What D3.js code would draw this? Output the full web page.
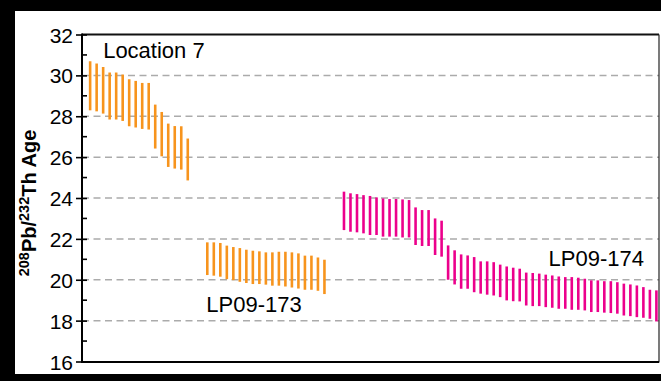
<!DOCTYPE html>
<html>
<head>
<meta charset="utf-8">
<script src="https://cdn.jsdelivr.net/npm/d3@7"></script>
<style>
  html, body { margin: 0; padding: 0; background: #000; }
  svg { display: block; }
  text { font-family: "Liberation Sans", Arial, Helvetica, sans-serif; }
</style>
</head>
<body>
<svg id="chart" width="661" height="381"></svg>
<script>
// Age ranges (Ma) for each analysed grain, lower and upper ends of each bar
const groupNames = ["Location 7", "LP09-173", "LP09-174"];

const loc7Low  = [28.29, 28.24, 28.13, 27.84, 27.84, 27.77, 27.51, 27.45, 27.38, 27.35, 26.42, 26.04, 25.52, 25.44, 25.39, 24.86];
const loc7High = [30.69, 30.58, 30.41, 30.14, 30.14, 30.04, 29.81, 29.73, 29.63, 29.63, 28.57, 28.21, 27.64, 27.52, 27.51, 26.91];

const lp173Low  = [20.23, 20.20, 20.15, 20.03, 19.98, 19.90, 19.84, 19.79, 19.79, 19.76, 19.71, 19.71, 19.67, 19.62, 19.57, 19.51, 19.51, 19.46, 19.30];
const lp173High = [21.83, 21.83, 21.80, 21.67, 21.60, 21.55, 21.47, 21.42, 21.39, 21.34, 21.34, 21.37, 21.37, 21.34, 21.29, 21.18, 21.18, 21.09, 20.98];

const lp174Low  = [22.43, 22.35, 22.32, 22.27, 22.19, 22.19, 22.11, 22.11, 22.11, 22.07, 22.07,
                   21.70, 21.65, 21.65, 21.21, 21.13, 20.00, 19.77, 19.56, 19.56, 19.39,
                   19.32, 19.27, 19.23, 19.15, 18.99, 18.95, 18.94, 18.74, 18.71, 18.71,
                   18.66, 18.63, 18.58, 18.58, 18.53, 18.53, 18.50, 18.42, 18.42, 18.39,
                   18.37, 18.34, 18.25, 18.22, 18.17, 18.14, 18.09, 17.96];
const lp174High = [24.31, 24.23, 24.19, 24.14, 24.10, 24.03, 23.98, 23.95, 23.95, 23.93, 23.90,
                   23.54, 23.41, 23.41, 23.00, 22.89, 21.68, 21.44, 21.24, 21.19, 21.11,
                   20.90, 20.90, 20.86, 20.74, 20.65, 20.59, 20.54, 20.35, 20.33, 20.30,
                   20.25, 20.21, 20.16, 20.13, 20.13, 20.10, 20.05, 19.97, 19.97, 19.93,
                   19.93, 19.88, 19.81, 19.77, 19.72, 19.64, 19.51, 19.48];

const yTicks = [16, 18, 20, 22, 24, 26, 28, 30, 32];
const yMinorTicks = [17, 19, 21, 23, 25, 27, 29, 31];

const orange = "#f7941d";
const magenta = "#ec008c";

// Combine the groups into one sequence of grains, leaving two empty slots between groups
const groups = [
  { name: groupNames[0], low: loc7Low,  high: loc7High,  color: orange },
  { name: groupNames[1], low: lp173Low, high: lp173High, color: orange },
  { name: groupNames[2], low: lp174Low, high: lp174High, color: magenta }
];
const GAP = 2;
const bars = [];
let idx = 0;
groups.forEach((g) => {
  g.start = idx;
  g.low.forEach((lo, i) => {
    bars.push({ i: idx, low: lo, high: g.high[i], color: g.color });
    idx++;
  });
  g.end = idx - 1;
  idx += GAP;
});

const svg = d3.select("#chart");
const W = 661, H = 381;

// white sheet on the black page
svg.append("rect").attr("x", 0).attr("y", 0).attr("width", W).attr("height", H).attr("fill", "#000");
svg.append("rect").attr("x", 15).attr("y", 11).attr("width", W - 15).attr("height", 363).attr("fill", "#fff");

const plot = { left: 82, right: 659, top: 34.5, bottom: 361.5 };

const x = d3.scaleLinear().domain([-1.25, 87.4]).range([plot.left, plot.right]);
const y = d3.scaleLinear().domain([16, 32]).range([plot.bottom, plot.top]);

// dashed horizontal grid
svg.append("g")
  .selectAll("line")
  .data(yTicks.filter(t => t > 16 && t < 32))
  .join("line")
  .attr("x1", plot.left).attr("x2", plot.right)
  .attr("y1", d => y(d)).attr("y2", d => y(d))
  .attr("stroke", "#ababab")
  .attr("stroke-width", 1.5)
  .attr("stroke-dasharray", "7,4.5");

// frame: top and right edges
svg.append("line").attr("x1", plot.left).attr("x2", plot.right)
  .attr("y1", plot.top).attr("y2", plot.top)
  .attr("stroke", "#111").attr("stroke-width", 2);
svg.append("line").attr("x1", plot.right).attr("x2", plot.right)
  .attr("y1", plot.top).attr("y2", plot.bottom + 1)
  .attr("stroke", "#222").attr("stroke-width", 1.2);

// error bars
svg.append("g")
  .selectAll("line")
  .data(bars)
  .join("line")
  .attr("x1", d => x(d.i)).attr("x2", d => x(d.i))
  .attr("y1", d => y(d.low)).attr("y2", d => y(d.high))
  .attr("stroke", d => d.color)
  .attr("stroke-width", 2.6);

// bottom axis line (no tick labels)
svg.append("line").attr("x1", plot.left - 1).attr("x2", plot.right)
  .attr("y1", plot.bottom + 0.5).attr("y2", plot.bottom + 0.5)
  .attr("stroke", "#000").attr("stroke-width", 2);

// left axis with major ticks crossing the axis and minor ticks inside
const yAxis = d3.axisLeft(y).tickValues(yTicks).tickSize(6).tickPadding(3).tickFormat(d3.format("d"));
const gy = svg.append("g").attr("transform", `translate(${plot.left},0)`).call(yAxis);
gy.select(".domain").attr("stroke", "#000").attr("stroke-width", 2)
  .attr("d", `M0,${plot.top - 1}V${plot.bottom + 1.5}`);
gy.selectAll(".tick line").attr("x1", 5).attr("x2", -6).attr("stroke", "#000").attr("stroke-width", 1.6);
gy.selectAll(".tick text").attr("font-size", 21).attr("fill", "#000")
  .attr("font-family", "Liberation Sans, Arial, sans-serif").attr("x", -9).attr("dy", "0.36em");

svg.append("g").selectAll("line")
  .data(yMinorTicks)
  .join("line")
  .attr("x1", plot.left).attr("x2", plot.left + 5)
  .attr("y1", d => y(d)).attr("y2", d => y(d))
  .attr("stroke", "#000").attr("stroke-width", 1.6);

// y-axis title with superscript isotope masses
const title = svg.append("text")
  .attr("transform", `translate(36,${(plot.top + plot.bottom) / 2 + 5}) rotate(-90)`)
  .attr("text-anchor", "middle")
  .attr("font-weight", "bold")
  .attr("font-size", 20)
  .attr("fill", "#000");
title.append("tspan").attr("font-size", 14.5).attr("dy", -7).text("208");
title.append("tspan").attr("dy", 7).text("Pb/");
title.append("tspan").attr("font-size", 14.5).attr("dy", -7).text("232");
title.append("tspan").attr("dy", 7).text("Th Age");

// group labels
svg.append("text").attr("x", x(groups[0].start + 2)).attr("y", y(30.85))
  .attr("font-size", 22).attr("fill", "#000").text(groups[0].name);
svg.append("text").attr("x", x(groups[1].start) - 1).attr("y", y(18.42))
  .attr("font-size", 22).attr("fill", "#000").text(groups[1].name);
svg.append("text").attr("x", x(groups[2].start + 46.1)).attr("y", y(20.65))
  .attr("text-anchor", "end")
  .attr("font-size", 22).attr("fill", "#000").text(groups[2].name);
</script>
</body>
</html>
